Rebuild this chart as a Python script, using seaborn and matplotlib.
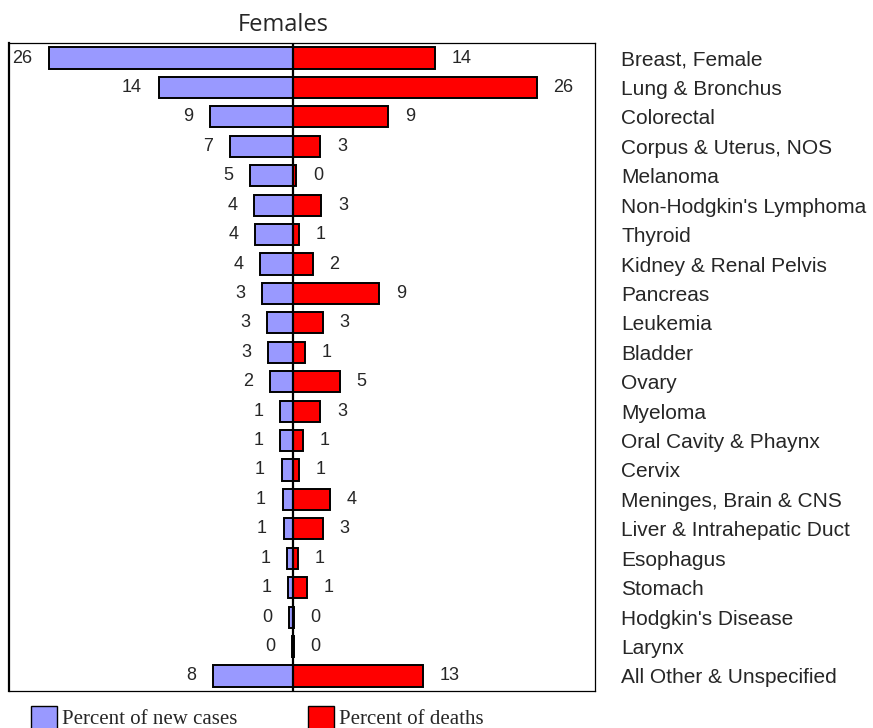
import pandas as pd
import matplotlib.pyplot as plt
import seaborn as sns
from matplotlib.patches import Rectangle

# Dados (percentuais, mulheres)
sites = ['Breast, Female', 'Lung & Bronchus', 'Colorectal', 'Corpus & Uterus, NOS',
         'Melanoma', "Non-Hodgkin's Lymphoma", 'Thyroid', 'Kidney & Renal Pelvis',
         'Pancreas', 'Leukemia', 'Bladder', 'Ovary', 'Myeloma', 'Oral Cavity & Phaynx',
         'Cervix', 'Meninges, Brain & CNS', 'Liver & Intrahepatic Duct', 'Esophagus',
         'Stomach', "Hodgkin's Disease", 'Larynx', 'All Other & Unspecified']
new_cases = [26.0, 14.3, 8.8, 6.7, 4.6, 4.15, 4.0, 3.5, 3.3, 2.8, 2.7, 2.45,
             1.4, 1.4, 1.2, 1.1, 1.0, 0.65, 0.55, 0.4, 0.1, 8.5]
deaths = [15.1, 25.9, 10.1, 2.9, 0.36, 3.0, 0.6, 2.1, 9.15, 3.2, 1.3, 5.0,
          2.9, 1.06, 0.64, 3.9, 3.2, 0.53, 1.5, 0.05, 0.1, 13.8]
case_labels = [26, 14, 9, 7, 5, 4, 4, 4, 3, 3, 3, 2, 1, 1, 1, 1, 1, 1, 1, 0, 0, 8]
death_labels = [14, 26, 9, 3, 0, 3, 1, 2, 9, 3, 1, 5, 3, 1, 1, 4, 3, 1, 1, 0, 0, 13]

BLUE = '#9999FF'
RED = '#FF0000'

df = pd.DataFrame({'site': sites, 'cases': [-v for v in new_cases], 'deaths': deaths})

sns.set_style('white')
plt.rcParams['font.family'] = ['Liberation Sans', 'DejaVu Sans']

fig = plt.figure(figsize=(8.73, 7.28), dpi=100)
ax = fig.add_axes([9 / 873, 1 - 690.7 / 728, (595 - 9) / 873, (690.7 - 43.3) / 728])

sns.barplot(data=df, x='cases', y='site', orient='h', color=BLUE, edgecolor='black',
            linewidth=1.4, width=0.72, saturation=1, ax=ax)
sns.barplot(data=df, x='deaths', y='site', orient='h', color=RED, edgecolor='black',
            linewidth=1.4, width=0.72, saturation=1, ax=ax)

ax.axvline(0, color='black', lw=1.6, zorder=5)
ax.set_xlim(-30.2, 32.1)
ax.set_ylim(21.5, -0.5)

# rótulos numéricos
for i in range(len(sites)):
    ax.annotate(str(case_labels[i]), (-new_cases[i], i), xytext=(-12, 0),
                textcoords='offset points', ha='right', va='center', fontsize=13)
    ax.annotate(str(death_labels[i]), (deaths[i], i), xytext=(12, 0),
                textcoords='offset points', ha='left', va='center', fontsize=13)

ax.set_xlabel('')
ax.set_ylabel('')
ax.set_xticks([])
ax.tick_params(axis='y', left=False, right=False, labelleft=False, labelright=True,
               length=0, pad=19, labelsize=15)
for lab in ax.get_yticklabels():
    lab.set_horizontalalignment('left')

for side, sp in ax.spines.items():
    sp.set_visible(True)
    sp.set_color('black')
    sp.set_linewidth(0.9)
ax.spines['left'].set_linewidth(1.6)

fig.text(283 / 873, 1 - 31 / 728, 'Females', ha='center', va='baseline',
         fontsize=17, family=['Open Sans', 'DejaVu Sans'])

# legenda manual
legend_items = [('Percent of new cases', BLUE, 30.7), ('Percent of deaths', RED, 308)]
for text, col, x0 in legend_items:
    fig.patches.append(Rectangle((x0 / 873, -4 / 728), 26 / 873, 26 / 728,
                                 transform=fig.transFigure, facecolor=col,
                                 edgecolor='black', lw=1.0))
    fig.text((x0 + 31) / 873, 4 / 728, text, ha='left', va='baseline', fontsize=15,
             family=['Liberation Serif', 'DejaVu Serif'])

fig.savefig('out.png', dpi=100)
plt.close(fig)
